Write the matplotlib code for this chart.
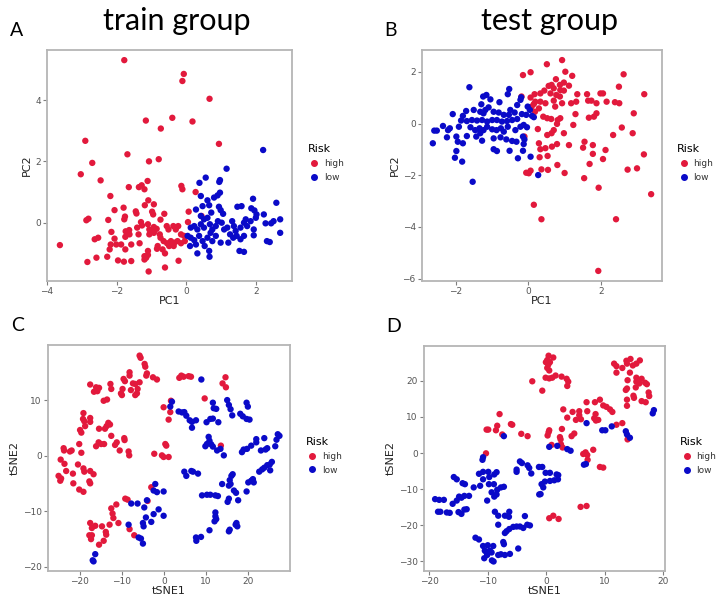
import matplotlib
matplotlib.use("Agg")
import matplotlib.pyplot as plt
from matplotlib.lines import Line2D

RED = '#E2193C'
BLUE = '#0A0AC8'

# Panel A - train group PCA
A_HIGH = [(-1.78,5.30),(-0.07,4.85),(-0.11,4.62),(0.67,4.04),(-1.16,3.33),(-0.40,3.42),(0.18,3.30),(-0.73,3.07),
          (-2.90,2.67),(0.94,2.57),(-1.69,2.23),(-2.70,1.95),(-1.07,2.0),(-0.79,2.07),
          (-3.03,1.58),(-2.46,1.38),(-1.65,1.16),(-1.36,1.16),(-1.28,1.22),(-1.20,1.09),(-1.11,1.36),(-0.14,1.20),
          (-0.11,1.09),(0.27,1.0),(-2.18,0.87),(-1.09,0.73),(-1.19,0.57),(-0.93,0.60),(-1.80,0.49),(-2.06,0.41),
          (-1.45,0.37),(-1.43,0.30),(-0.98,0.36),(-0.95,0.27),(-0.63,0.29),(0.07,0.36),(0.44,0.22),(-2.87,0.08),
          (-2.81,0.13),(-2.24,0.09),(-1.76,0.20),(-1.78,0.11),(-1.30,0.02),(-0.74,0.10),(0.05,0.02),(-2.15,-0.30),
          (-1.64,-0.24),(-1.74,-0.28),(-1.41,-0.16),(-1.27,-0.09),(-1.10,-0.05),(-1.06,-0.22),(-0.93,-0.14),
          (-0.85,-0.20),(-0.56,-0.11),(-0.51,-0.22),(-0.37,-0.11),(-0.30,-0.22),(-0.23,-0.11),(-1.63,-0.38),
          (-1.37,-0.38),(-1.06,-0.38),(-1.01,-0.30),(-0.93,-0.33),(-0.76,-0.38),(-0.74,-0.49),(-2.53,-0.49),
          (-2.63,-0.54),(-2.06,-0.52),(-1.75,-0.46),(-0.15,-0.38),(-0.06,-0.43),(-0.65,-0.60),(-0.55,-0.67),
          (-0.44,-0.60),(-0.34,-0.65),(-0.49,-0.76),(-0.36,-0.76),(-0.25,-0.60),(-0.15,-0.67),(-0.04,-0.60),
          (-0.82,-0.76),(-0.84,-0.85),(-0.68,-0.87),(-0.61,-1.0),(-2.01,-0.71),(-1.87,-0.71),(-2.17,-0.71),
          (-1.58,-0.71),(-1.34,-0.67),(-2.20,-0.87),(-1.75,-0.87),(-3.63,-0.73),(-1.10,-0.92),(-1.20,-1.09),
          (-1.15,-1.14),(-1.20,-1.20),(-1.10,-1.05),(-2.58,-1.14),(-2.27,-1.11),(-2.84,-1.28),(-1.96,-1.23),
          (-1.79,-1.27),(-1.58,-1.25),(-0.61,-1.46),(-0.22,-1.24),(-1.08,-1.59)]
A_LOW = [(2.21,2.37),(1.16,1.76),(0.56,1.47),(0.38,1.30),(0.97,1.39),(0.95,1.33),(0.42,0.87),(0.90,0.89),
         (0.97,0.98),(0.80,0.82),(0.61,0.73),(0.66,0.57),(0.28,0.43),(0.47,0.54),(0.72,0.33),(0.94,0.52),
         (0.99,0.41),(1.06,0.29),(1.92,0.78),(1.47,0.52),(1.59,0.54),(1.87,0.47),(1.96,0.40),(2.59,0.65),
         (2.23,0.27),(2.02,0.27),(2.51,0.05),(2.70,0.11),(2.44,-0.02),(2.28,-0.02),(2.70,-0.33),(1.94,-0.22),
         (1.94,-0.41),(2.32,-0.60),(2.40,-0.63),(1.53,-0.92),(1.66,-0.95),(0.42,0.22),(0.51,0.11),(0.61,0.16),
         (0.13,-0.16),(0.23,-0.11),(0.32,-0.22),(0.42,-0.05),(0.51,-0.16),(0.68,-0.05),(0.75,-0.22),(0.85,-0.11),
         (0.04,-0.43),(0.13,-0.49),(0.23,-0.57),(0.11,-0.76),(0.28,-0.71),(0.37,-0.43),(0.47,-0.60),(0.53,-0.76),
         (0.61,-0.49),(0.70,-0.33),(0.75,-0.60),(0.85,-0.43),(1.02,0.0),(1.09,-0.22),(1.18,-0.16),(1.32,0.05),
         (1.37,-0.11),(1.42,-0.27),(1.56,-0.16),(1.66,0.0),(1.71,0.11),(1.75,-0.11),(1.85,0.05),(2.0,0.16),
         (1.26,-0.38),(1.35,-0.49),(1.45,-0.43),(1.56,-0.54),(1.66,-0.43),(0.99,-0.65),(0.32,-1.0),(0.66,-0.92),
         (0.67,-1.11),(0.91,0.05),(1.21,-0.65)]

# Panel B - test group PCA
B_HIGH = [(0.93,2.46),(0.51,2.30),(-0.15,1.88),(0.06,1.99),(1.02,2.01),(1.21,1.85),(2.63,1.91),(0.76,1.72),
          (0.64,1.50),(0.56,1.46),(0.70,1.37),(0.87,1.50),(0.98,1.59),(0.88,1.30),(0.98,1.28),(1.12,1.47),
          (2.50,1.43),(0.33,1.17),(0.44,1.28),(0.17,1.14),(0.61,1.17),(0.77,1.11),(0.87,1.05),(1.35,1.14),
          (1.62,1.14),(1.99,1.17),(2.06,1.17),(3.20,1.14),(0.06,1.01),(0.19,0.85),(0.15,0.76),(0.33,0.85),
          (0.47,0.79),(0.29,0.59),(0.70,0.89),(0.93,0.79),(0.74,0.66),(1.18,0.79),(1.32,0.85),(1.65,0.89),
          (1.74,0.89),(1.88,0.79),(2.16,0.85),(2.39,0.83),(2.51,0.79),(0.18,0.46),(0.09,0.66),(0.41,0.27),
          (0.52,0.21),(0.63,0.18),(0.81,0.14),(0.88,0.21),(0.79,-0.01),(1.30,0.37),(1.67,0.23),(1.88,0.40),
          (1.81,0.27),(2.91,0.40),(0.26,-0.21),(0.70,-0.25),(0.64,-0.37),(0.52,-0.44),(0.98,-0.37),(1.24,-0.05),
          (2.58,-0.15),(-0.11,-0.50),(2.34,-0.44),(2.88,-0.37),(0.29,-0.76),(0.47,-0.95),(0.65,-0.89),
          (0.79,-0.79),(1.12,-0.83),(1.55,-0.70),(1.51,-0.93),(1.78,-0.83),(1.78,-1.17),(2.13,-1.02),
          (0.33,-0.99),(0.31,-1.30),(0.53,-1.25),(2.06,-1.37),(3.19,-1.19),(0.80,-1.60),(1.69,-1.56),
          (-0.19,1.05),(-0.06,-1.90),(0.01,-1.92),(0.06,-1.82),(0.36,-1.77),(0.54,-1.79),(1.0,-1.91),
          (1.54,-2.11),(1.94,-2.48),(2.74,-1.78),(3.0,-1.73),(3.39,-2.73),(0.15,-3.14),(0.36,-3.70),
          (2.42,-3.70),(1.93,-5.70)]
B_LOW = [(-1.54,-2.25),(0.27,-1.99),(-1.63,1.41),(-0.53,1.34),(-0.57,1.14),(-1.25,1.05),(-1.16,1.11),
         (-1.05,0.94),(-1.30,0.75),(-1.10,0.63),(-1.19,0.53),(-0.80,0.83),(-0.20,1.02),(-0.22,0.92),
         (-0.31,0.72),(-0.50,0.53),(-0.38,0.43),(-0.54,0.34),(-2.09,0.37),(-1.72,0.49),(-1.51,0.53),
         (-1.33,0.46),(-1.24,0.40),(-0.96,0.46),(-0.82,0.43),(-0.68,0.34),(-1.81,0.30),(-1.86,0.12),
         (-1.70,0.10),(-1.56,0.14),(-1.42,0.12),(-1.28,0.14),(-1.14,0.08),(-1.00,0.14),(-0.87,0.14),
         (-0.73,0.08),(-0.59,0.10),(-0.45,0.14),(-0.31,0.18),(-0.18,0.37),(-0.06,0.34),(-0.02,0.66),
         (0.04,0.53),(-2.36,-0.09),(-2.60,-0.27),(-2.53,-0.27),(-2.22,-0.25),(-2.17,-0.18),(-1.92,-0.12),
         (-1.60,-0.14),(-1.47,-0.25),(-1.35,-0.18),(-1.24,-0.25),(-1.14,-0.12),(-1.0,-0.22),(-0.88,-0.25),
         (-0.76,-0.18),(-0.68,-0.31),(-0.57,-0.12),(-0.36,-0.25),(-0.22,-0.12),(-0.13,-0.05),(-0.04,-0.14),
         (-2.25,-0.53),(-1.99,-0.50),(-1.70,-0.48),(-1.44,-0.50),(-1.33,-0.37),(-1.28,-0.66),(-0.96,-0.57),
         (-0.77,-0.53),(-0.61,-0.61),(-0.45,-0.67),(-0.33,-0.70),(-0.15,-0.50),(-0.11,-0.61),(-0.13,-0.79),
         (-2.64,-0.76),(-1.81,-0.76),(-1.95,-0.70),(-1.99,-1.06),(-2.03,-1.32),(-1.83,-1.47),(-0.96,-0.99),
         (-0.87,-1.06),(-0.52,-1.05),(-0.15,-1.05),(0.06,-1.28),(-0.29,-1.34),(0.10,0.30),(0.15,0.25)]

# Panel C - train group tSNE
C_HIGH = [(-5.78,18.0),(-5.54,17.6),(-4.59,16.5),(-4.43,16.0),(-4.20,14.4),(-4.04,14.8),(-2.61,14.1),
          (-1.66,13.7),(-8.16,15.0),(-8.16,14.4),(-9.58,13.8),(-9.26,13.4),(-7.36,13.0),(-6.81,12.9),
          (-5.78,13.2),(-12.7,12.9),(-12.5,12.0),(-17.5,12.8),(-16.1,12.3),(-15.4,12.2),(-16.6,11.5),
          (-15.8,11.6),(-9.82,12.0),(-7.84,11.8),(-10.2,11.2),(-9.97,10.9),(-6.25,12.0),(-6.41,11.2),
          (-6.81,10.9),(-14.3,9.88),(-13.5,10.1),(3.64,14.0),(4.12,14.4),(4.67,14.2),(5.86,14.3),(6.41,14.2),
          (14.6,14.1),(13.9,13.0),(14.7,12.3),(-0.08,8.71),(1.66,9.88),(1.50,7.84),(1.11,6.49),(9.66,10.3),
          (-19.1,7.66),(-19.2,6.61),(-18.9,6.2),(-17.5,6.78),(-17.5,6.08),(-19.9,4.62),(-19.6,4.15),
          (-18.7,5.32),(-15.4,4.85),(-14.0,4.85),(-13.6,5.32),(-13.2,5.91),(-12.8,5.61),(-12.5,3.57),
          (-9.42,3.16),(-9.34,2.81),(-11.2,2.40),(-11.6,1.93),(-15.5,2.40),(-14.9,2.1),(-14.2,2.1),
          (-16.1,1.70),(-20.1,2.1),(-23.8,1.35),(-23.7,0.94),(-21.9,0.94),(-22.3,0.76),(-19.6,0.53),
          (-10.5,0.94),(-8.39,0.76),(-8.24,0.06),(0.32,2.1),(0.55,1.81),(-2.30,0.35),(-0.48,0.06),
          (-0.08,-0.23),(1.11,-0.23),(13.5,1.81),(-24.5,-0.70),(-23.6,-1.46),(-20.4,-1.58),(-25.0,-3.63),
          (-24.4,-4.09),(-24.6,-4.5),(-23.2,-2.75),(-21.6,-3.22),(-21.5,-4.97),(-19.1,-2.28),(-18.9,-2.87),
          (-17.5,-2.75),(-16.7,-3.33),(-17.7,-4.62),(-17.5,-4.97),(-20.1,-6.08),(-19.1,-6.49),(-9.18,-7.72),
          (-8.63,-7.9),(-11.3,-8.77),(-12.5,-9.47),(-12.2,-10.4),(-12.0,-11.2),(-10.8,-12.1),(-12.9,-12.4),
          (-14.7,-12.7),(-16.3,-12.6),(-17.1,-13.0),(-17.5,-12.1),(-13.8,-13.7),(-13.7,-14.2),(-17.7,-14.3),
          (-17.1,-14.3),(-17.3,-15.0),(-14.3,-15.3),(-15.4,-16.0),(-3.01,-5.67),(-3.88,-8.13),(-8.16,-13.2),
          (-7.05,-14.3)]
C_LOW = [(8.87,13.7),(1.90,9.71),(1.50,8.83),(3.48,7.95),(4.28,7.78),(4.83,7.84),(5.30,7.19),(6.10,6.37),
         (6.65,6.08),(7.60,6.37),(6.65,5.03),(10.1,6.02),(11.0,6.61),(11.6,6.67),(12.9,6.02),(11.6,9.53),
         (11.8,8.54),(12.4,8.42),(15.0,10.0),(15.4,9.12),(15.8,8.36),(16.2,7.25),(18.1,7.54),(18.7,7.08),
         (19.6,9.53),(19.9,8.83),(19.6,6.61),(20.3,6.49),(10.6,3.39),(10.2,2.11),(11.2,2.05),(9.82,1.70),
         (11.6,1.64),(13.4,1.23),(14.2,0.06),(18.5,0.64),(18.9,1.11),(19.7,1.23),(21.9,2.98),(21.9,2.40),
         (23.8,3.16),(20.7,1.81),(23.0,0.94),(24.1,1.11),(24.5,1.35),(27.0,3.86),(27.4,3.57),(26.7,2.87),
         (26.4,1.70),(10.8,2.69),(12.6,0.94),(4.83,-2.87),(5.30,-3.63),(6.49,-2.75),(6.89,-2.87),(8.08,-3.22),
         (16.3,-3.33),(16.0,-3.63),(15.6,-4.39),(15.8,-5.09),(13.8,-5.09),(15.4,-5.38),(16.6,-6.26),
         (17.1,-6.67),(15.4,-7.72),(15.1,-8.3),(17.6,-8.01),(9.03,-7.13),(10.2,-7.02),(11.0,-7.02),
         (12.2,-7.13),(12.8,-7.25),(20.0,-4.8),(20.7,-4.5),(21.1,-4.21),(21.3,-4.8),(19.6,-6.43),(22.6,-2.87),
         (23.3,-2.46),(23.8,-2.16),(25.1,-1.58),(25.2,-2.63),(25.6,-1.11),(24.5,-1.70),(-2.06,-5.09),
         (-2.45,-6.26),(-1.66,-6.55),(-0.08,-6.43),(-7.76,-8.6),(-6.26,-8.6),(-4.04,-8.01),(-4.67,-9.3),
         (-1.27,-9.65),(-2.45,-10.5),(-0.08,-10.8),(-4.28,-11.1),(-3.01,-11.9),(-4.99,-12.1),(-4.83,-12.7),
         (-8.39,-12.4),(-6.02,-14.7),(-5.46,-14.9),(-4.99,-15.8),(12.2,-10.2),(12.2,-10.9),(12.4,-11.4),
         (12.0,-11.8),(10.8,-13.4),(7.60,-14.7),(7.68,-15.3),(8.79,-14.6),(15.4,-13.6),(15.6,-13.3),
         (17.0,-12.4),(17.4,-12.7),(17.2,-12.1),(-16.3,-17.7),(-16.9,-18.8),(-16.7,-19.0)]

# Panel D - test group tSNE
D_HIGH = [(0.40,27.0),(1.20,26.5),(0.17,25.8),(-0.06,25.2),(0.63,25.2),(0.34,24.5),(0.17,23.6),(0.51,22.9),
          (-0.11,20.9),(0.51,20.7),(1.03,20.9),(1.60,21.5),(2.62,21.2),(3.48,20.6),(3.76,19.8),(3.59,18.6),
          (-2.39,19.9),(-0.68,17.3),(11.6,24.8),(12.0,24.1),(12.0,22.3),(13.7,25.6),(14.4,26.1),(13.8,24.8),
          (14.8,24.3),(15.4,24.8),(16.0,25.7),(14.3,22.3),(13.0,23.6),(15.4,20.9),(16.3,20.6),(15.4,19.8),
          (15.9,19.3),(16.9,19.5),(17.2,19.1),(13.9,20.2),(13.6,17.5),(13.8,17.9),(15.3,18.2),(14.9,15.9),
          (15.0,15.3),(17.5,16.8),(17.6,15.8),(16.3,14.4),(17.0,14.1),(13.8,14.8),(13.8,13.1),(6.89,14.1),
          (8.32,14.1),(9.17,14.8),(9.74,13.2),(10.3,12.8),(10.9,12.1),(11.3,11.4),(2.91,12.1),(4.50,11.4),
          (5.64,11.6),(7.01,11.6),(3.59,9.82),(5.64,10.5),(5.93,9.37),(5.07,9.19),(8.43,10.8),(8.20,9.64),
          (8.49,9.01),(8.89,9.19),(12.0,7.84),(13.0,8.29),(-7.98,10.8),(-8.38,7.57),(-8.60,6.31),(-9.91,6.49),
          (-10.2,6.49),(-6.04,8.02),(-5.81,7.84),(-7.52,5.14),(-4.27,5.32),(-3.19,4.68),(0.40,5.77),(0.51,6.31),
          (0.23,4.86),(2.68,6.67),(2.34,4.41),(2.45,3.78),(4.79,5.41),(4.33,4.68),(0.91,2.25),(2.51,2.43),
          (2.79,1.53),(6.72,0.18),(6.32,-0.27),(7.01,-0.54),(8.03,0.90),(-10.3,-0.09),(13.9,3.78),(7.07,-1.89),
          (9.17,-3.87),(9.74,-4.05),(5.87,-14.95),(6.89,-14.7),(0.51,-18.1),(1.20,-17.4),(2.11,-18.3)]
D_LOW = [(6.44,-3.24),(6.78,-3.06),(-10.9,-1.89),(-4.50,-2.34),(-4.16,-2.79),(-3.19,-3.42),(-2.91,-4.14),
         (-2.56,-5.68),(-5.07,-4.59),(-5.07,-5.23),(-1.25,-3.87),(-0.68,-3.87),(0.63,-5.50),(1.77,-5.95),
         (2.05,-6.13),(-0.11,-5.50),(-0.23,-7.93),(0.63,-7.75),(1.37,-7.57),(2.0,-7.30),(-0.80,-8.65),
         (-0.51,-9.55),(-0.97,-11.4),(-1.20,-11.5),(-11.5,-5.77),(-10.8,-5.23),(-9.91,-5.23),(-8.89,-5.95),
         (-8.49,-5.32),(-10.8,-7.30),(-9.74,-6.67),(-9.8,-8.65),(-8.95,-8.65),(-12.4,-9.55),(-11.3,-9.10),
         (-15.8,-6.67),(-15.3,-7.30),(-14.3,-8.38),(-13.9,-8.65),(-9.34,-10.9),(-8.38,-10.2),(-7.75,-9.55),
         (-7.24,-9.37),(-8.89,-12.1),(-8.49,-11.5),(-10.1,-13.2),(-14.9,-12.1),(-14.5,-12.4),(-14.0,-11.9),
         (-13.2,-11.9),(-15.3,-13.2),(-16.0,-14.1),(-19.0,-12.8),(-18.3,-13.0),(-17.5,-13.0),(-18.5,-16.3),
         (-18.1,-16.3),(-17.0,-16.5),(-16.5,-16.6),(-15.0,-16.4),(-14.5,-16.9),(-14.0,-15.7),(-13.6,-15.6),
         (-8.78,-16.3),(-8.21,-17.4),(-7.07,-17.4),(-6.32,-16.3),(-6.38,-17.7),(-8.21,-19.9),(-3.65,-17.5),
         (-6.32,-21.1),(-5.64,-20.5),(-5.07,-20.4),(-4.50,-20.4),(-3.93,-20.8),(-3.25,-19.9),(-2.79,-20.1),
         (-7.07,-22.2),(-6.78,-21.7),(-12.1,-23.5),(-11.5,-24.0),(-10.8,-25.8),(-10.0,-25.6),(-9.06,-25.8),
         (-7.35,-24.7),(-7.24,-25.3),(-10.5,-27.1),(-10.2,-27.6),(-9.63,-27.1),(-9.34,-27.6),(-10.1,-28.3),
         (-8.21,-28.3),(-7.75,-28.1),(-7.07,-28.3),(-6.21,-28.0),(-10.6,-29.2),(-9.29,-29.8),(-9.0,-30.1),
         (-4.79,-26.5),(6.89,8.29),(9.57,6.31),(10.1,6.31),(11.2,7.39),(13.6,6.04),(13.8,5.14),(14.3,4.23),
         (18.4,11.9),(18.2,11.0),(-7.24,4.68),(0.51,1.71),(1.88,1.98),(3.59,1.08),(4.16,0.63),(-10.8,-1.17)]

PANELS = [
    # letter, title, high, low, xlabel, ylabel, xlim, ylim, xticks, yticks, rect
    ('A', 'train group', A_HIGH, A_LOW, 'PC1', 'PC2', (-4.0, 3.04), (-1.90, 5.63), [-4, -2, 0, 2], [0, 2, 4],
     [0.0655, 0.5309, 0.3412, 0.3856]),
    ('B', 'test group', B_HIGH, B_LOW, 'PC1', 'PC2', (-2.94, 3.69), (-6.09, 2.85), [-2, 0, 2], [-6, -4, -2, 0, 2],
     [0.5877, 0.5309, 0.3343, 0.3856]),
    ('C', None, C_HIGH, C_LOW, 'tSNE1', 'tSNE2', (-27.5, 29.9), (-20.7, 19.9), [-20, -10, 0, 10, 20], [-20, -10, 0, 10],
     [0.0669, 0.047, 0.3370, 0.3770]),
    ('D', None, D_HIGH, D_LOW, 'tSNE1', 'tSNE2', (-20.9, 20.3), (-32.7, 29.7), [-20, -10, 0, 10, 20], [-30, -20, -10, 0, 10, 20],
     [0.5905, 0.047, 0.3357, 0.3754]),
]

fig = plt.figure(figsize=(7.18, 5.99), dpi=100)

for letter, title, high, low, xl, yl, xlim, ylim, xt, yt, rect in PANELS:
    ax = fig.add_axes(rect)
    ax.scatter([p[0] for p in high], [p[1] for p in high], s=21, color=RED, edgecolors='none', zorder=3)
    ax.scatter([p[0] for p in low], [p[1] for p in low], s=21, color=BLUE, edgecolors='none', zorder=3)
    ax.set_xlim(*xlim)
    ax.set_ylim(*ylim)
    ax.set_xticks(xt)
    ax.set_yticks(yt)
    ax.set_xticklabels([str(v).replace('-', '\u2212') for v in xt])
    ax.set_yticklabels([str(v).replace('-', '\u2212') for v in yt])
    ax.tick_params(labelsize=6.5, labelcolor='#555555', color='#7f7f7f', length=3, width=0.8, pad=1.5)
    for sp in ax.spines.values():
        sp.set_color('#b5b5b5')
        sp.set_linewidth(1.3)
    ax.set_xlabel(xl, fontsize=8, color='#222222', labelpad=0)
    ax.set_ylabel(yl, fontsize=8, color='#222222', labelpad=2)

    handles = [Line2D([], [], marker='o', linestyle='none', color=RED, markersize=4, label='high'),
               Line2D([], [], marker='o', linestyle='none', color=BLUE, markersize=4, label='low')]
    leg = ax.legend(handles=handles, title='Risk', loc='center left', bbox_to_anchor=(1.03, 0.51),
                    frameon=False, fontsize=6.5, title_fontsize=8, alignment='left',
                    handletextpad=0.3, labelspacing=0.55, handlelength=1.5)
    for t in leg.get_texts():
        t.set_color('#333333')

    # panel letter and group title
    pos = ax.get_position()
    fig.text(pos.x0 - 0.052, pos.y1 + 0.032, letter, fontsize=14, family='Lato', va='center', ha='left')
    if title:
        fig.text((pos.x0 + pos.x1) / 2 + 0.01, pos.y1 + 0.048, title, fontsize=22, family='Lato',
                 va='center', ha='center')

fig.savefig('out.png', dpi=100)
